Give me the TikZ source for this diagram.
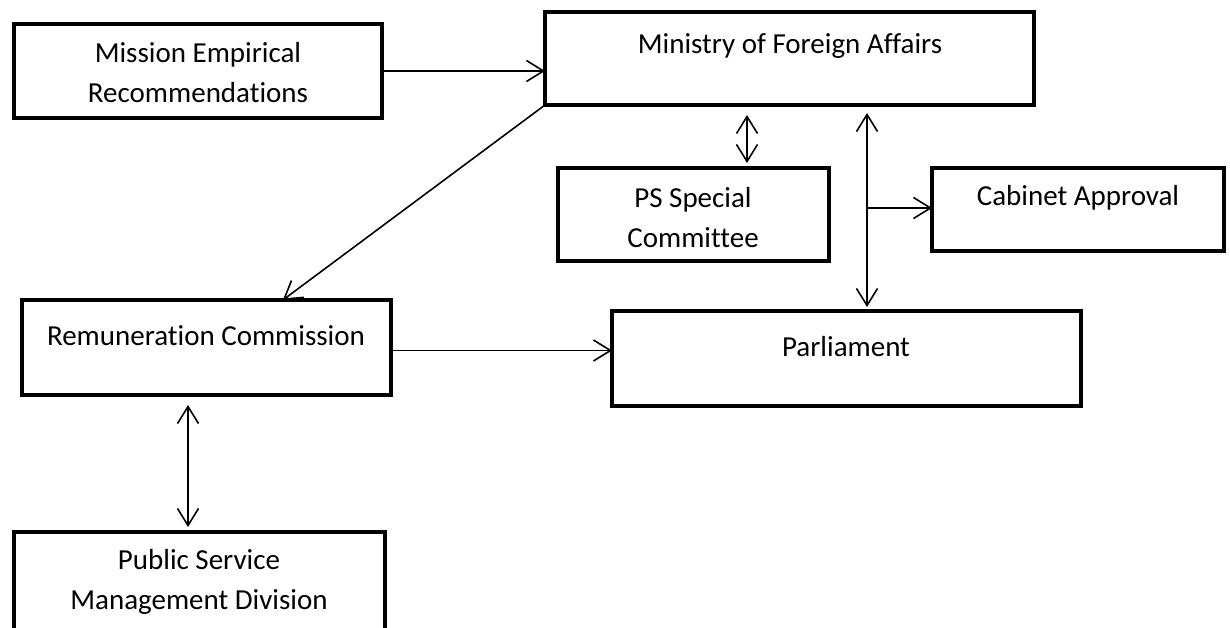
\documentclass[tikz,border=0pt]{standalone}
\usepackage{fontspec}
\setmainfont{Carlito}[Ligatures=NoCommon]
\usetikzlibrary{arrows.meta,calc}
\begin{document}
\begin{tikzpicture}[x=1pt,y=-1pt,
  box/.style={draw=black,line width=4pt,inner sep=0pt,outer sep=0pt,fill=white},
  lbl/.style={align=center,inner sep=0pt,font=\fontsize{29}{40}\selectfont},
  conn/.style={draw=black,line width=1.6pt,-{Straight Barb[length=17pt,width=21pt,line width=1.6pt]}},
  biconn/.style={draw=black,line width=1.6pt,{Straight Barb[length=17pt,width=21pt,line width=1.6pt]}-{Straight Barb[length=17pt,width=21pt,line width=1.6pt]}}
]
\useasboundingbox (0,0) rectangle (1230,628);
\clip (0,0) rectangle (1230,628);
\fill[white] (0,0) rectangle (1230,628);
% boxes
\node[box,minimum width=368pt,minimum height=94pt] (mission) at (198,71) {};
\node[box,minimum width=489pt,minimum height=93pt] (mfa) at (789.5,58.5) {};
\node[box,minimum width=271pt,minimum height=93pt] (ps) at (693.5,214.5) {};
\node[box,minimum width=292pt,minimum height=83pt] (cab) at (1078,209.5) {};
\node[box,minimum width=469pt,minimum height=95pt] (parl) at (846.5,358.5) {};
\node[box,minimum width=369pt,minimum height=95pt] (rem) at (206.5,347.5) {};
\node[box,minimum width=371pt,minimum height=118pt] (psmd) at (199.5,591) {};
% labels
\node[lbl] (missiont) at (198,73) {Mission Empirical\\Recommendations};
\node[lbl] (mfat) at (790,46) {Ministry of Foreign Affairs};
\node[lbl] (pst) at (693,217.5) {PS Special\\Committee};
\node[lbl] (cabt) at (1078,198) {Cabinet Approval};
\node[lbl] (parlt) at (846,347) {Parliament};
\node[lbl] (remt) at (206,336) {Remuneration Commission};
\node[lbl] (psmdt) at (199,582) {Public Service\\Management Division};
% connectors
\draw[conn] (mission.east) -- (mission.east -| mfa.west);
\draw[conn] (mfa.south west) -- ($(rem.north west)!0.707!(rem.north east)$);
\draw[biconn,shorten <=10pt,shorten >=5pt] ([xshift=53.5pt]ps.north |- mfa.south) -- ([xshift=53.5pt]ps.north);
\draw[biconn,shorten <=8pt,shorten >=4pt] ([xshift=20.5pt]parl.north |- mfa.south) -- ([xshift=20.5pt]parl.north);
\coordinate (j) at ([xshift=20.5pt]parl.north |- 0,208);
\draw[conn] (j) -- (j -| cab.west);
\draw[conn] ([yshift=-3pt]rem.east) -- ([yshift=-3pt]rem.east -| parl.west);
\draw[biconn,shorten <=10pt,shorten >=5pt] ([xshift=-18.5pt]rem.south) -- ([xshift=-18.5pt]rem.south |- psmd.north);
\end{tikzpicture}
\end{document}
